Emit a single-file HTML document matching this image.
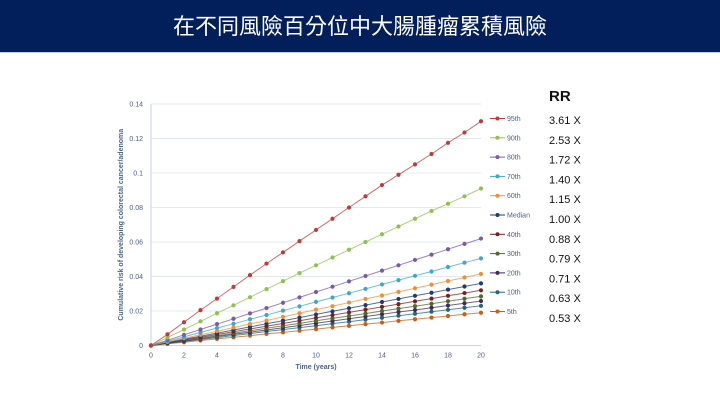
<!DOCTYPE html>
<html><head><meta charset="utf-8"><style>
body{margin:0;width:720px;height:405px;background:#fff;overflow:hidden;font-family:"Liberation Sans","Noto Sans CJK TC",sans-serif;}
#hdr{position:absolute;left:0;top:0;width:720px;height:52px;background:#021f5b;border-bottom:1px solid #c8d0e0;}
#title{position:absolute;left:0;top:9px;width:720px;text-align:center;color:#fff;font-size:22px;font-family:"Liberation Sans","Noto Sans CJK TC",sans-serif;}
svg{position:absolute;left:0;top:0;}
</style></head><body>
<div id="hdr"><div id="title">在不同風險百分位中大腸腫瘤累積風險</div></div>
<svg id="chart" width="720" height="405"></svg>
<script>
const years=[0,1,2,3,4,5,6,7,8,9,10,11,12,13,14,15,16,17,18,19,20];
const names=["95th","90th","80th","70th","60th","Median","40th","30th","20th","10th","5th"];
const rr=["3.61 X","2.53 X","1.72 X","1.40 X","1.15 X","1.00 X","0.88 X","0.79 X","0.71 X","0.63 X","0.53 X"];
const colors=["#c0393b","#92c04e","#7b5ba6","#3fa8c8","#f28f36","#1f3a78","#7b1f22","#4e6a26","#3f2a5a","#22667e","#d05b16"];
const yTicks=[0,0.02,0.04,0.06,0.08,0.1,0.12,0.14];
const xTicks=[0,2,4,6,8,10,12,14,16,18,20];
const s95=[0,.0065,.0135,.0205,.0272,.034,.0408,.0475,.054,.0605,.067,.0735,.08,.0865,.093,.099,.105,.111,.1175,.1235,.13];
const s90=[0,.0047,.0093,.014,.0187,.0233,.028,.0327,.0373,.042,.0465,.051,.0555,.06,.0645,.069,.0735,.078,.0822,.0865,.091];
const s80=[0,.0031,.0062,.0093,.0124,.0155,.0186,.0217,.0248,.0279,.031,.0341,.0372,.0403,.0434,.0465,.0496,.0527,.0558,.0589,.062];
const s70=[0,.0025,.005,.0076,.0101,.0126,.0152,.0177,.0202,.0227,.0253,.0278,.0303,.0328,.0354,.0379,.0404,.0429,.0455,.048,.0505];
const s60=[0,.0021,.0042,.0062,.0083,.0104,.0125,.0145,.0166,.0187,.0208,.0228,.0249,.027,.029,.0311,.0332,.0353,.0374,.0394,.0415];
const sMed=[0,.0018,.0036,.0054,.0072,.009,.0108,.0126,.0144,.0162,.018,.0198,.0216,.0234,.0252,.027,.0288,.0306,.0324,.0342,.036];
const s40=[0,.0016,.0032,.0048,.0064,.008,.0096,.0112,.0128,.0144,.016,.0176,.0192,.0208,.0224,.024,.0256,.0272,.0288,.0304,.032];
const s30=[0,.0014,.0029,.0043,.0057,.0071,.0086,.01,.0114,.0128,.0143,.0157,.0171,.0185,.02,.0214,.0228,.0242,.0257,.0271,.0285];
const s20=[0,.0013,.0026,.0039,.0052,.0065,.0077,.009,.0103,.0116,.0129,.0142,.0155,.0168,.0181,.0194,.0206,.0219,.0232,.0245,.0258];
const s10=[0,.0012,.0023,.0035,.0046,.0058,.0069,.0081,.0092,.0104,.0115,.0127,.0138,.015,.0161,.0173,.0184,.0196,.0207,.0219,.023];
const s5=[0,.001,.0019,.0029,.0038,.0048,.0057,.0067,.0076,.0086,.0095,.0105,.0114,.0124,.0133,.0143,.0152,.0162,.0171,.0181,.019];
const series=[s95,s90,s80,s70,s60,sMed,s40,s30,s20,s10,s5];

const NS="http://www.w3.org/2000/svg";
const svg=document.getElementById('chart');
const X0=151,X1=481,Y0=345.5,Y1=104;
const xs=v=>X0+(v-0)/(20-0)*(X1-X0);
const ys=v=>Y0-(v/0.14)*(Y0-Y1);
function mk(tag,attrs,parent){const e=document.createElementNS(NS,tag);for(const k in attrs)e.setAttribute(k,attrs[k]);(parent||svg).appendChild(e);return e;}
const axisCol="#4a5f8a";
yTicks.forEach(t=>{
  const g=mk('line',{x1:X0,x2:X1,y1:ys(t),y2:ys(t),stroke:t===0?"#c9d3e3":"#e3e8f1","stroke-width":1});
  
  
  const tx=mk('text',{x:X0-8,y:ys(t)+2.5,"text-anchor":"end","font-size":"7",fill:axisCol});
  tx.textContent=String(t);
  
  
});
const ax=mk('line',{x1:X0,x2:X0,y1:Y1,y2:Y0,stroke:"#c9d3e3","stroke-width":1});


xTicks.forEach(t=>{
  const tx=mk('text',{x:xs(t),y:Y0+12,"text-anchor":"middle","font-size":"7",fill:axisCol});
  tx.textContent=String(t);
  
  
});
const xt=mk('text',{x:(X0+X1)/2,y:369,"text-anchor":"middle","font-size":"7","font-weight":"bold",fill:axisCol});
xt.textContent="Time (years)";


const yt=mk('text',{x:0,y:0,"text-anchor":"middle","font-size":"7","font-weight":"bold",fill:axisCol,transform:`translate(123,${(Y0+Y1)/2}) rotate(-90)`});
yt.textContent="Cumulative risk of developing colorectal cancer/adenoma";



for(let i=series.length-1;i>=0;i--){
  const d=series[i].map((v,j)=>(j?'L':'M')+xs(years[j]).toFixed(1)+','+ys(v).toFixed(1)).join('');
  const p=mk('path',{d:d,fill:"none",stroke:colors[i],"stroke-width":1,"stroke-opacity":0.75});
  
  
  series[i].forEach((v,j)=>{
    const c=mk('circle',{cx:xs(years[j]),cy:ys(v),r:2.1,fill:colors[i]});
    
    
  });
}
names.forEach((n,i)=>{
  const y=118.5+i*19.3;
  const l=mk('line',{x1:490,x2:505,y1:y,y2:y,stroke:colors[i],"stroke-width":1});
  
  
  const c=mk('circle',{cx:497.5,cy:y,r:2,fill:colors[i]});
  
  
  const t=mk('text',{x:507,y:y+2.5,"font-size":"7",fill:axisCol});
  t.textContent=n;
  
  
  const r=mk('text',{x:549,y:124+i*19.8,"font-size":"11",fill:"#111"});
  r.textContent=rr[i];
  
  
});
const rh=mk('text',{x:549,y:101,"font-size":"15","font-weight":"bold",fill:"#111"});
rh.textContent="RR";


</script>
</body></html>
